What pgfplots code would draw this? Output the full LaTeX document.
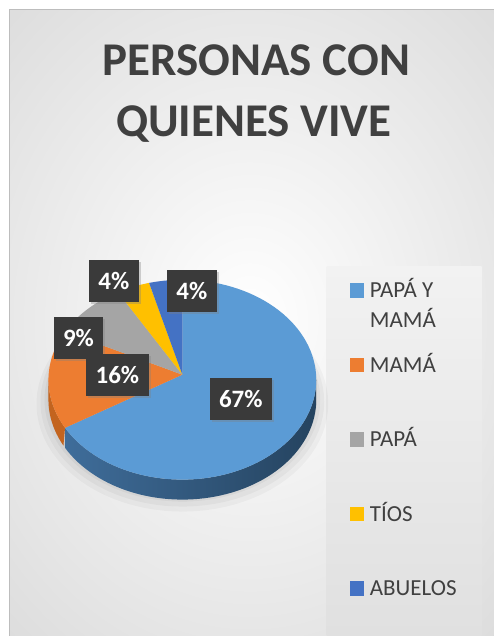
\documentclass[border=0pt]{standalone}
\usepackage{fontspec}
\setmainfont{Carlito}
\usepackage{pgfplots}
\pgfplotsset{compat=1.18}
\usetikzlibrary{shadows}
\definecolor{cBlue}{HTML}{5B9BD5}
\definecolor{cOrange}{HTML}{ED7D31}
\definecolor{cGray}{HTML}{A5A5A5}
\definecolor{cYellow}{HTML}{FFC000}
\definecolor{cDBlue}{HTML}{4472C4}
\definecolor{sideL}{HTML}{3F6D9A}
\definecolor{sideM}{HTML}{203B56}
\definecolor{sideR}{HTML}{25435F}
\definecolor{sideO}{HTML}{C3641F}
\definecolor{txt}{HTML}{404040}
\definecolor{lbl}{HTML}{3A3A3A}
\definecolor{bgout}{HTML}{C6C6C6}
\definecolor{bordercol}{HTML}{BDBDBD}
\definecolor{legtop}{HTML}{F2F2F2}
\definecolor{legbot}{HTML}{E0E0E0}
\tikzset{lblbox/.style={fill=lbl,text=white,font=\fontsize{25}{29}\selectfont\bfseries,
    minimum height=42pt,inner xsep=9.5pt,
    drop shadow={opacity=0.35,shadow xshift=2pt,shadow yshift=-2pt}}}
% data (percent)
\def\vA{67}\def\vB{16}\def\vC{9}\def\vD{4}\def\vE{4}
\pgfmathsetmacro\aA{90}
\pgfmathsetmacro\aB{\aA-3.6*\vA}
\pgfmathsetmacro\aC{\aB-3.6*\vB}
\pgfmathsetmacro\aD{\aC-3.6*\vC}
\pgfmathsetmacro\aE{\aD-3.6*\vD}
\pgfmathsetmacro\aF{\aE-3.6*\vE}
% geometry
\def\cx{182.5}\def\cy{256}\def\ay{261}\def\rx{134}\def\ry{100}\def\dep{20}
\begin{document}
\begin{tikzpicture}
\begin{axis}[width=494pt,height=636pt,scale only axis,
  xmin=0,xmax=494,ymin=0,ymax=636,hide axis,clip=false,
  legend image code/.code={\fill[#1] (0pt,0pt) rectangle (14pt,14.5pt);},
  legend style={at={(axis cs:350,353)},anchor=north west,draw=none,fill=none,
    inner sep=0pt,font=\fontsize{23}{30}\selectfont,text=txt,
    row sep=59.5pt,column sep=6pt,
    nodes={inner sep=0pt,text height=15pt,text depth=0pt,anchor=base west}},
]
% background
\fill[white] (axis cs:0,0) rectangle (axis cs:494,636);
\begin{scope}
\clip (axis cs:10,0) rectangle (axis cs:494,626);
\fill[bgout] (axis cs:10,0) rectangle (axis cs:494,626);
\shade[inner color=white,outer color=bgout] (axis cs:250,316) ellipse [x radius=600pt,y radius=720pt];
\end{scope}
\draw[bordercol,line width=1pt] (axis cs:10,0) -- (axis cs:10,626) -- (axis cs:494,626);
\shade[top color=legtop,bottom color=legbot] (axis cs:327,0) rectangle (axis cs:482,369);
% soft shadow (below the pie)
\addplot[forget plot,draw=none,fill=black,fill opacity=0.03,domain=0:360,samples=90,variable=\t] ({\cx+(\rx+12)*cos(\t)},{\cy-24+(\ry+8)*sin(\t)});
\addplot[forget plot,draw=none,fill=black,fill opacity=0.035,domain=0:360,samples=90,variable=\t] ({\cx+(\rx+8)*cos(\t)},{\cy-22+(\ry+5)*sin(\t)});
\addplot[forget plot,draw=none,fill=black,fill opacity=0.04,domain=0:360,samples=90,variable=\t] ({\cx+(\rx+4)*cos(\t)},{\cy-20+(\ry+2)*sin(\t)});
\addplot[forget plot,draw=none,fill=black,fill opacity=0.04,domain=0:360,samples=90,variable=\t] ({\cx+(\rx+1)*cos(\t)},{\cy-18+(\ry)*sin(\t)});
% sides
\addplot[forget plot,draw=none,left color=sideL,middle color=sideM,right color=sideR,domain=0:2,samples=121,variable=\s]
  ({\cx+\rx*cos((\aB)+(-(\aB))*min(\s,2-\s))},{\cy+\ry*sin((\aB)+(-(\aB))*min(\s,2-\s))-\dep*(\s>1)});
\addplot[forget plot,draw=none,fill=sideO,domain=0:2,samples=41,variable=\s]
  ({\cx+\rx*cos(-180+((\aB)+180)*min(\s,2-\s))},{\cy+\ry*sin(-180+((\aB)+180)*min(\s,2-\s))-\dep*(\s>1)});
% top faces
\addplot[draw=none,fill=cBlue,domain=\aB:\aA,samples=90,variable=\t] ({\cx+\rx*cos(\t)},{\cy+\ry*sin(\t)}) -- (axis cs:\cx,\ay) -- cycle;
\addlegendentry{\begin{tabular}[t]{@{}l@{}}PAPÁ Y\\MAMÁ\end{tabular}}
\addplot[draw=none,fill=cOrange,domain=\aC:\aB,samples=30,variable=\t] ({\cx+\rx*cos(\t)},{\cy+\ry*sin(\t)}) -- (axis cs:\cx,\ay) -- cycle;
\addlegendentry{MAMÁ}
\addplot[draw=none,fill=cGray,domain=\aD:\aC,samples=20,variable=\t] ({\cx+\rx*cos(\t)},{\cy+\ry*sin(\t)}) -- (axis cs:\cx,\ay) -- cycle;
\addlegendentry{PAPÁ}
\addplot[draw=none,fill=cYellow,domain=\aE:\aD,samples=10,variable=\t] ({\cx+\rx*cos(\t)},{\cy+\ry*sin(\t)}) -- (axis cs:\cx,\ay) -- cycle;
\addlegendentry{TÍOS}
\addplot[draw=none,fill=cDBlue,domain=\aF:\aE,samples=10,variable=\t] ({\cx+\rx*cos(\t)},{\cy+\ry*sin(\t)}) -- (axis cs:\cx,\ay) -- cycle;
\addlegendentry{ABUELOS}
% data labels
\node[lblbox] at (axis cs:192,345) {\vE\%};
\node[lblbox] at (axis cs:114,355) {\vD\%};
\node[lblbox] at (axis cs:78.5,297.5) {\vC\%};
\node[lblbox] at (axis cs:117.5,261) {\vB\%};
\node[lblbox] at (axis cs:241,236.5) {\vA\%};
% title
\node[anchor=base,font=\fontsize{47}{56}\selectfont\bfseries,text=txt] at (axis cs:256.5,560) {PERSONAS CON};
\node[anchor=base,font=\fontsize{47}{56}\selectfont\bfseries,text=txt] at (axis cs:254,499) {QUIENES VIVE};
\end{axis}
\end{tikzpicture}
\end{document}
